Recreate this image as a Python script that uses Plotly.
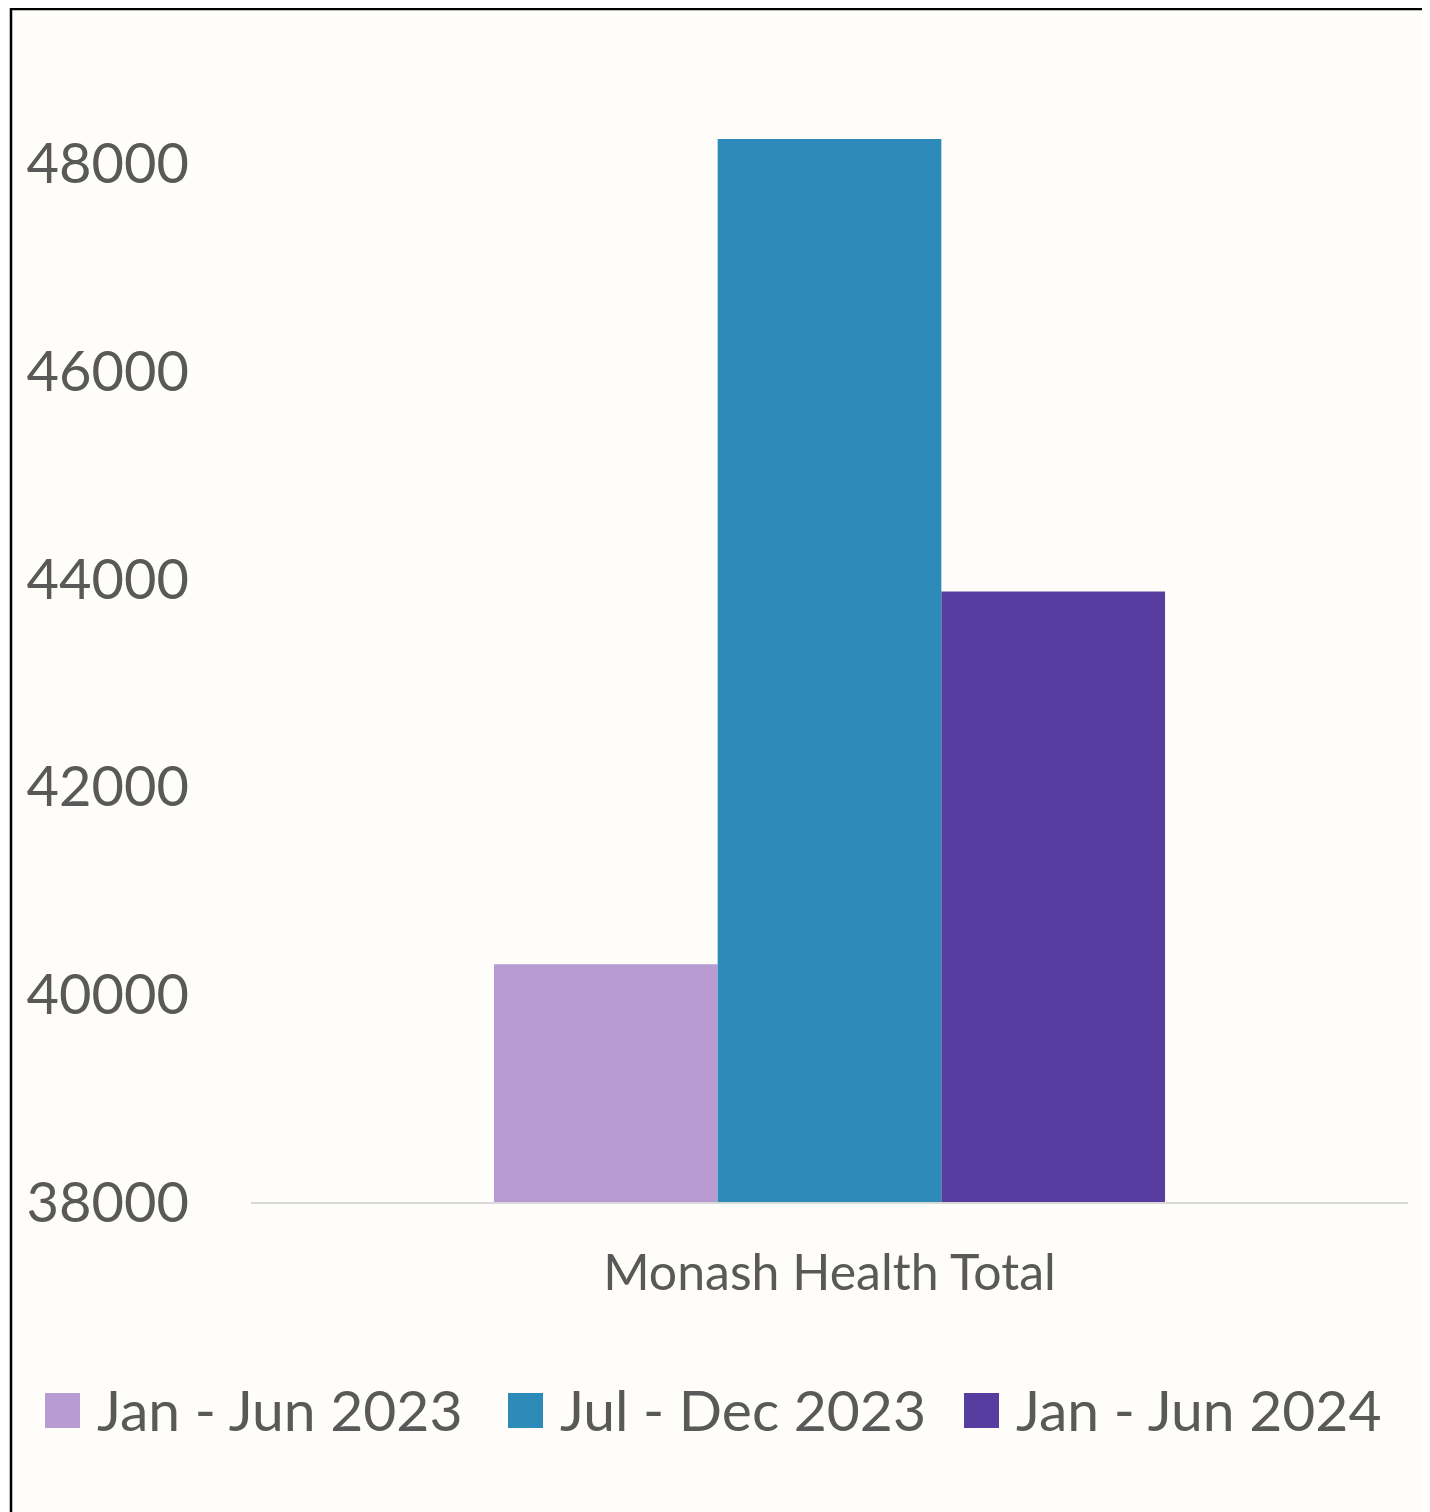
import plotly.graph_objects as go

categories = ["Monash Health Total"]
series_names = ["Jan - Jun 2023", "Jul - Dec 2023", "Jan - Jun 2024"]
series_values = [[40290], [48240], [43880]]
series_colors = ["#B79BD1", "#2D8BB9", "#583DA0"]
y_ticks = [38000, 40000, 42000, 44000, 46000, 48000]
y_tick_text = [str(v) for v in y_ticks]

OFF = 8  # page body margin
W, H = 1430 - OFF, 1512 - OFF
L, R, T, B = 251 - OFF, 22, 60 - OFF, 310
PW, PH = W - L - R, H - T - B
FONT = "Lato, 'Open Sans', sans-serif"
TXT = "#595959"

def px2x(px):
    return (px - OFF - L) / PW

def px2y(py):
    return (H - B - (py - OFF)) / PH

fig = go.Figure()
for name, vals, col in zip(series_names, series_values, series_colors):
    fig.add_trace(go.Bar(x=categories, y=vals, name=name, marker_color=col,
                         marker_line_width=0, showlegend=False))

shapes = []
annotations = []
# manual legend
leg_sq_x = [45, 508, 964]
for name, col, sx in zip(series_names, series_colors, leg_sq_x):
    shapes.append(dict(type="rect", xref="paper", yref="paper",
                       x0=px2x(sx), x1=px2x(sx + 35), y0=px2y(1428), y1=px2y(1393),
                       fillcolor=col, line_width=0))
    annotations.append(dict(xref="paper", yref="paper", x=px2x(sx + 50), y=px2y(1409),
                            text=name, showarrow=False, xanchor="left", yanchor="middle",
                            font=dict(family=FONT, size=57, color=TXT)))
# outer border (top and left edges visible)
shapes.append(dict(type="line", xref="paper", yref="paper",
                   x0=px2x(10), x1=px2x(1440), y0=px2y(9), y1=px2y(9),
                   line=dict(color="#000000", width=2.5)))
shapes.append(dict(type="line", xref="paper", yref="paper",
                   x0=px2x(11), x1=px2x(11), y0=px2y(8), y1=px2y(1530),
                   line=dict(color="#000000", width=2.5)))

fig.update_layout(
    width=W, height=H,
    margin=dict(l=L, r=R, t=T, b=B, pad=0),
    paper_bgcolor="#FEFDF9", plot_bgcolor="#FEFDF9",
    barmode="group", bargap=0.42, bargroupgap=0,
    shapes=shapes, annotations=annotations,
    font=dict(family=FONT, color=TXT),
    xaxis=dict(showline=True, linecolor="#D9D9D9", linewidth=2, showgrid=False,
               ticks="", tickfont=dict(family=FONT, size=50, color=TXT),
               ticklabelstandoff=26, zeroline=False),
    yaxis=dict(range=[38000, 49000], tickvals=y_ticks, ticktext=y_tick_text,
               showgrid=False, zeroline=False,
               showline=False, ticks="", tickfont=dict(family=FONT, size=56, color=TXT),
               ticklabelstandoff=61),
)
fig.write_html("out.html")
